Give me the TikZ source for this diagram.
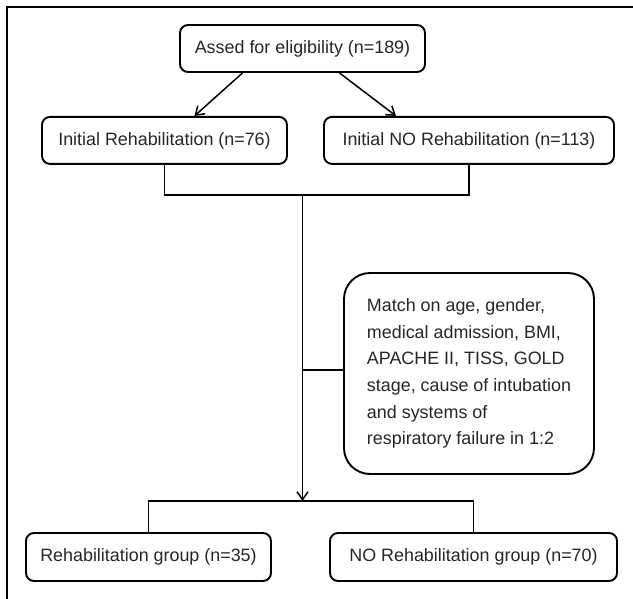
\documentclass[tikz,border=0pt]{standalone}
\usepackage{fontspec}
\setmainfont{Liberation Sans}
\usepackage{xcolor}
\definecolor{inkgray}{RGB}{38,38,38}
\usepackage{tikz}
\usetikzlibrary{arrows.meta,positioning,calc}

\begin{document}
\begin{tikzpicture}[x=1pt,y=-1pt,node distance=43pt]
  \tikzstyle{stage}=[rectangle,draw=black,line width=1.9pt,rounded corners=8pt,minimum height=47pt,align=center,text=inkgray,font=\fontsize{17.9}{21}\selectfont]
  \tikzstyle{note}=[stage,rounded corners=26pt,align=left,inner xsep=22pt,minimum width=250pt,minimum height=201pt,font=\fontsize{17.9}{26.7}\selectfont]
  \tikzstyle{link}=[line width=1.5pt]
  \tikzstyle{flow}=[link,-{Straight Barb[length=8pt,width=11pt]}]
  \useasboundingbox (0,0) rectangle (633,599);
  % frame
  \draw[line width=2.6pt] (7,599) -- (7,7) -- (633,7);
  \node[stage,minimum width=245pt] (elig) at (302.5,48.5) {Assed for eligibility (n=189)};
  \node[stage,minimum width=245pt,below=of elig,xshift=-138pt] (initR) {Initial Rehabilitation (n=76)};
  \node[stage,minimum width=290pt,below=of elig,xshift=166.5pt] (initNR) {Initial NO Rehabilitation (n=113)};
  \node[note] (match) at (469,373.5) {Match on age, gender,\\medical admission, BMI,\\APACHE II, TISS, GOLD\\stage, cause of intubation\\and systems of\\respiratory failure in 1:2};
  \node[stage,minimum width=245pt,minimum height=48pt] (grpR) at (148.5,557) {Rehabilitation group (n=35)};
  \node[stage,minimum width=287pt,minimum height=48pt] (grpNR) at (473.5,557) {NO Rehabilitation group (n=70)};
  \coordinate (merge) at (302.5,195);
  \coordinate (split) at (302.5,501);
  % connectors
  \draw[flow] ([xshift=-60pt]elig.south) -- ([xshift=30pt]initR.north);
  \draw[flow] ([xshift=37pt]elig.south) -- ([xshift=-73pt]initNR.north);
  \draw[link] (initR.south) |- (merge) -| (initNR.south);
  \draw[flow] (merge) -- (split);
  \draw[link] ([yshift=3.5pt]match.west) -- ([yshift=3.5pt]match.west -| merge);
  \draw[link] (grpR.north) |- (split) -| (grpNR.north);
\end{tikzpicture}
\end{document}
